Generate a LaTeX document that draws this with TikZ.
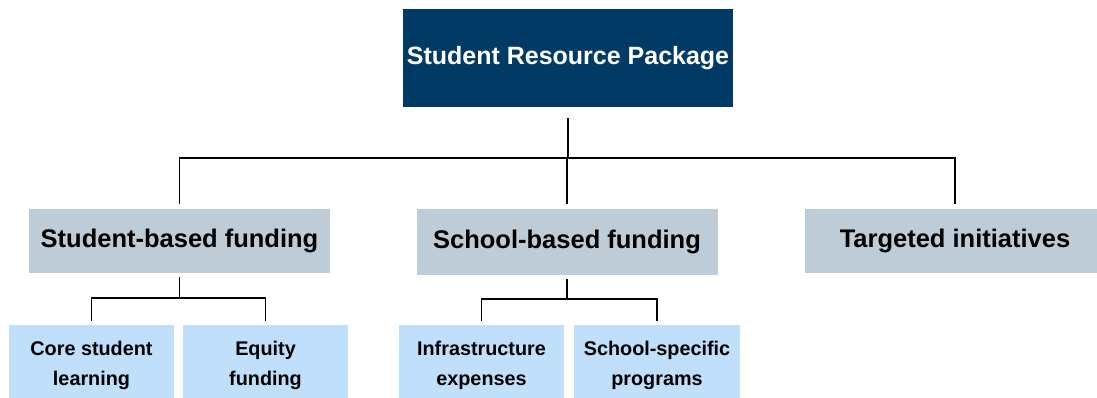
\documentclass[tikz,border=0pt]{standalone}
\usepackage{fontspec}
\setmainfont{Liberation Sans}
\usepackage{tikz}

\definecolor{navy}{HTML}{023A66}
\definecolor{greyblue}{HTML}{BDCCD6}
\definecolor{paleblue}{HTML}{BFDFFB}

\begin{document}
\begin{tikzpicture}[x=1pt,y=1pt,yscale=-1,xscale=1,
  box/.style={draw=none,inner sep=0pt,align=center,font=\bfseries},
  topbox/.style={box,fill=navy,text=white,minimum width=330pt,minimum height=98pt,font=\bfseries\fontsize{25}{30}\selectfont},
  midbox/.style={box,fill=greyblue,text=black,minimum width=301pt,minimum height=64pt,font=\bfseries\fontsize{25.5}{30}\selectfont},
  leafbox/.style={box,fill=paleblue,text=black,minimum width=165pt,minimum height=80pt,font=\bfseries\fontsize{19.8}{30}\selectfont},
  link/.style={draw=black,line width=1.7pt}]
\useasboundingbox (0,0) rectangle (1097,398);

%Shape: Top box
\node[topbox] (srp) at (568,58.5) {Student Resource Package};

%Shape: Second level
\node[midbox] (sbf) at (179.5,241) {Student-based funding};
\node[midbox, minimum height=66pt] (scb) at (567,242) {School-based funding};
\node[midbox, minimum width=300pt] (tgt) at (955,241) {Targeted initiatives};

%Shape: Leaves
\node[leafbox] (core) at (91.5,365) {Core student\\learning};
\node[leafbox] (eqt) at (265.5,365) {Equity\\funding};
\node[leafbox] (infra) at (481.5,365) {Infrastructure\\expenses};
\node[leafbox, minimum width=166pt] (ssp) at (657,365) {School-specific\\programs};

%Straight Lines: top to second level
\coordinate (tophub) at (srp.south |- 0,158);
\draw[link, shorten <=10pt] (srp.south) -- (tophub);
\draw[link, shorten >=5pt] (tophub) -| (sbf.north);
\draw[link, shorten >=5pt] (tophub) -- (tophub -| scb.north) -- (scb.north);
\draw[link, shorten >=5pt] (tophub) -| (tgt.north);

%Straight Lines: second level to leaves
\coordinate (sbfhub) at (sbf.south |- 0,298);
\draw[link, shorten <=4pt] (sbf.south) -- (sbfhub);
\draw[link, shorten >=4pt] (sbfhub) -| (core.north);
\draw[link, shorten >=4pt] (sbfhub) -| (eqt.north);

\coordinate (scbhub) at (scb.south |- 0,299);
\draw[link, shorten <=4pt] (scb.south) -- (scbhub);
\draw[link, shorten >=4pt] (scbhub) -| (infra.north);
\draw[link, shorten >=4pt] (scbhub) -| (ssp.north);

\end{tikzpicture}
\end{document}
